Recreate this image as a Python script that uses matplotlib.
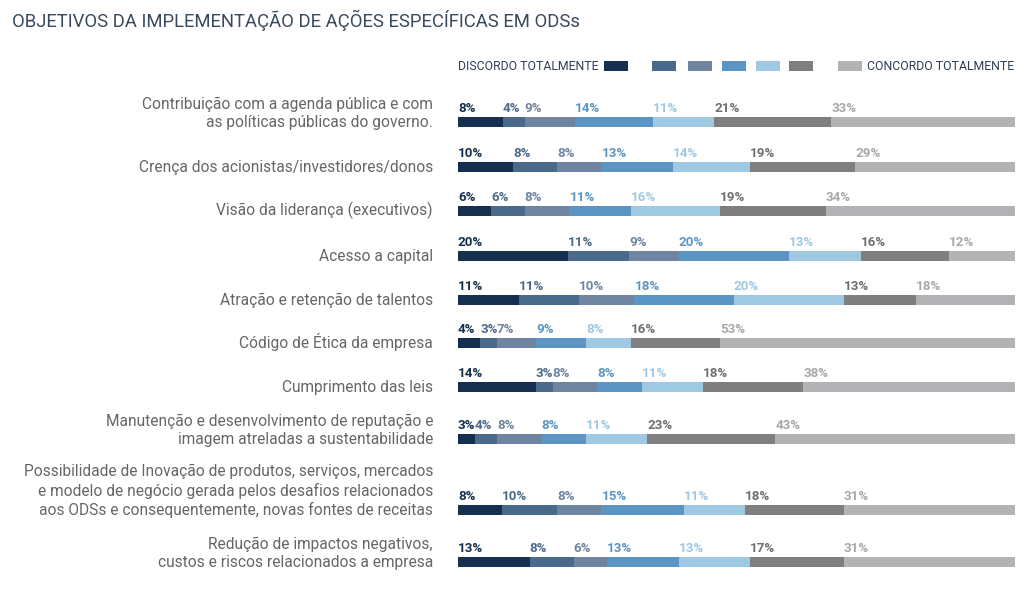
import numpy as np
import matplotlib.pyplot as plt
from matplotlib.patches import Rectangle

plt.rcParams['font.family'] = ['Roboto', 'DejaVu Sans']

# dados
categorias = [
    "Contribuição com a agenda pública e com\nas políticas públicas do governo.",
    "Crença dos acionistas/investidores/donos",
    "Visão da liderança (executivos)",
    "Acesso a capital",
    "Atração e retenção de talentos",
    "Código de Ética da empresa",
    "Cumprimento das leis",
    "Manutenção e desenvolvimento de reputação e\nimagem atreladas a sustentabilidade",
    "Possibilidade de Inovação de produtos, serviços, mercados\ne modelo de negócio gerada pelos desafios relacionados\naos ODSs e consequentemente, novas fontes de receitas",
    "Redução de impactos negativos,\ncustos e riscos relacionados a empresa",
]
escala1 = [8, 10, 6, 20, 11, 4, 14, 3, 8, 13]
escala2 = [4, 8, 6, 11, 11, 3, 3, 4, 10, 8]
escala3 = [9, 8, 8, 9, 10, 7, 8, 8, 8, 6]
escala4 = [14, 13, 11, 20, 18, 9, 8, 8, 15, 13]
escala5 = [11, 14, 16, 13, 20, 8, 11, 11, 11, 13]
escala6 = [21, 19, 19, 16, 13, 16, 18, 23, 18, 17]
escala7 = [33, 29, 34, 12, 18, 53, 38, 43, 31, 31]

titulo = "OBJETIVOS DA IMPLEMENTAÇÃO DE AÇÕES ESPECÍFICAS EM ODSs"
leg_esq = "DISCORDO TOTALMENTE"
leg_dir = "CONCORDO TOTALMENTE"

# estilo
cores = ["#15304f", "#4a6a8c", "#6f84a0", "#5a95c3", "#9fc8e2", "#7f7f80", "#b3b3b5"]
cores_txt = ["#15304f", "#4a6a8c", "#6f84a0", "#5a95c3", "#9fc8e2", "#6f6f70", "#a8a8aa"]
y_linhas = [122, 167, 211, 256, 299.5, 343, 387, 439, 510, 562]
altura = 10

W, H = 1024, 589
fig = plt.figure(figsize=(W / 100, H / 100), dpi=100)
ax = fig.add_axes([458 / W, 0, (1015 - 458) / W, 1])
ax.set_xlim(0, 1)
ax.set_ylim(H, 0)
ax.axis('off')

valores = np.array([escala1, escala2, escala3, escala4, escala5, escala6, escala7], dtype=float).T
for i, linha in enumerate(valores):
    frac = linha / linha.sum()
    esq = np.concatenate([[0], np.cumsum(frac)[:-1]])
    ax.barh(y_linhas[i], frac, left=esq, height=altura, color=cores, linewidth=0)
    for j in range(7):
        ax.text(esq[j], y_linhas[i] - altura / 2 - 2, f"{int(linha[j])}%",
                color=cores_txt[j], fontsize=9.6, fontweight='bold',
                ha='left', va='bottom')

# rótulos das categorias
for i, cat in enumerate(categorias):
    fig.text(433 / W, 1 - (y_linhas[i] + 8) / H, cat, ha='right', va='bottom',
             fontsize=11.2, color='#666666', linespacing=1.25)

# título
fig.text(12 / W, 1 - 20 / H, titulo, fontsize=13.3, color='#3a4a5e', va='center')

# legenda
yl = 66
fig.text(458 / W, 1 - yl / H, leg_esq, fontsize=8.8, color='#2f3e52', va='center')
fig.text(1014 / W, 1 - yl / H, leg_dir, fontsize=8.8, color='#2f3e52', va='center', ha='right')
xs_leg = [604, 652, 688, 722, 756, 789, 838]
for x0, c in zip(xs_leg, cores):
    fig.patches.append(Rectangle((x0 / W, 1 - (yl + 5) / H), 24 / W, 10 / H,
                                 transform=fig.transFigure, color=c, linewidth=0))

fig.savefig("out.png", dpi=100)
